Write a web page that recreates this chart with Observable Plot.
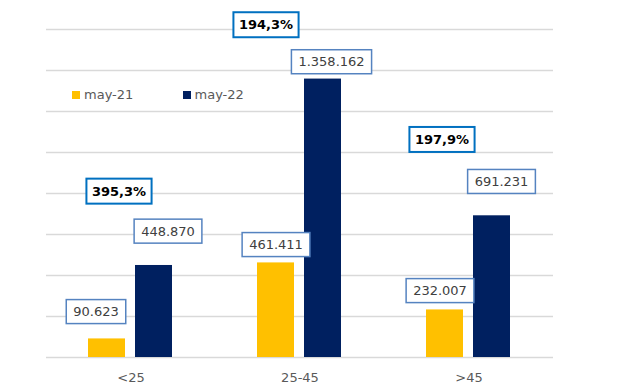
<!DOCTYPE html>
<html>
<head>
<meta charset="utf-8">
<script src="https://cdn.jsdelivr.net/npm/d3@7"></script>
<script src="https://cdn.jsdelivr.net/npm/@observablehq/plot@0.6"></script>
<style>
  html, body { margin: 0; padding: 0; background: #fff; }
  #wrap { position: relative; width: 640px; height: 391px; font-family: "DejaVu Sans", sans-serif; }
  .legend { position: absolute; top: 87px; font-size: 13px; color: #595959; display: flex; align-items: center; }
  .sw { width: 8px; height: 8px; display: inline-block; margin-right: 4px; }
</style>
</head>
<body>
<div id="wrap"></div>
<script>
// ---- data ----
const categories = ["<25", "25-45", ">45"];
const seriesNames = ["may-21", "may-22"];
const may21 = [90623, 461411, 232007];
const may22 = [448870, 1358162, 691231];
const growth = [395.3, 194.3, 197.9];
const yTicks = [0, 200000, 400000, 600000, 800000, 1000000, 1200000, 1400000, 1600000];
const colors = ["#FFC000", "#002060"];

// ---- layout config (label nudges, in px) ----
const valueNudge = {
  "<25|may-21": [-11, -27], "<25|may-22": [14, -34],
  "25-45|may-21": [0, -18], "25-45|may-22": [8.5, -17],
  ">45|may-21": [-5, -19], ">45|may-22": [9.5, -34]
};
const growthNudge = {"<25": [-12, -74], "25-45": [-34, -54], ">45": [-27, -76]};

const locale = d3.formatLocale({decimal: ",", thousands: ".", grouping: [3], currency: ["", "€"]});
const fmtInt = locale.format(",d");
const fmtPct = locale.format(".1f");

const rows = [];
categories.forEach((c, i) => {
  rows.push({cat: c, series: seriesNames[0], value: may21[i]});
  rows.push({cat: c, series: seriesNames[1], value: may22[i]});
});
const growthRows = categories.map((c, i) => ({cat: c, value: may22[i], label: fmtPct(growth[i]) + "%"}));

const valueLabels = rows.map(d => {
  const [dx, dy] = valueNudge[d.cat + "|" + d.series];
  return Plot.text([d], {
    fx: "cat", x: "series", y: "value", text: d => fmtInt(d.value),
    dx, dy, lineAnchor: "middle", textAnchor: "middle",
    fill: "#404040", fontSize: 13
  });
});
const growthLabels = growthRows.map(d => {
  const [dx, dy] = growthNudge[d.cat];
  return Plot.text([d], {
    fx: "cat", y: "value", text: "label", frameAnchor: "middle",
    dx, dy, lineAnchor: "middle", textAnchor: "middle",
    fill: "#000", fontSize: 13, fontWeight: "bold"
  });
});

const chart = Plot.plot({
  width: 640,
  height: 391,
  marginLeft: 46,
  marginRight: 87,
  marginTop: 29,
  marginBottom: 34,
  style: {fontFamily: "DejaVu Sans, sans-serif", fontSize: "13px", color: "#595959", background: "#fff"},
  fx: {domain: categories, paddingInner: 0, paddingOuter: 0, axis: "bottom", tickSize: 0, tickPadding: 15, label: null},
  x: {domain: seriesNames, paddingInner: 0.2083, paddingOuter: 0.8646, axis: null},
  y: {domain: [0, 1600000], axis: null},
  color: {domain: seriesNames, range: colors},
  marks: [
    Plot.ruleY(yTicks, {stroke: "#d9d9d9", strokeWidth: 1.3}),
    Plot.barY(rows, {fx: "cat", x: "series", y: "value", fill: "series"}),
    ...valueLabels,
    ...growthLabels
  ]
});

const wrap = document.getElementById("wrap");
wrap.appendChild(chart);

// boxes behind the labels
const valueSet = new Set(rows.map(d => fmtInt(d.value)));
const growthSet = new Set(growthRows.map(d => d.label));
chart.querySelectorAll("text").forEach(t => {
  const s = t.textContent;
  let pad, stroke, sw;
  if (valueSet.has(s)) { pad = [7, 4.5]; stroke = "#5583C0"; sw = 1.5; }
  else if (growthSet.has(s)) { pad = [5.5, 5]; stroke = "#0070C0"; sw = 2; }
  else return;
  const b = t.getBBox();
  const r = document.createElementNS("http://www.w3.org/2000/svg", "rect");
  r.setAttribute("x", b.x - pad[0]);
  r.setAttribute("y", b.y - pad[1]);
  r.setAttribute("width", b.width + 2 * pad[0]);
  r.setAttribute("height", b.height + 2 * pad[1]);
  r.setAttribute("fill", "#fff");
  r.setAttribute("stroke", stroke);
  r.setAttribute("stroke-width", sw);
  if (t.getAttribute("transform")) r.setAttribute("transform", t.getAttribute("transform"));
  t.parentNode.insertBefore(r, t);
});

// legend inside the plot area
seriesNames.forEach((name, i) => {
  const item = document.createElement("div");
  item.className = "legend";
  item.style.left = (i === 0 ? 72 : 182.5) + "px";
  const sw = document.createElement("span");
  sw.className = "sw";
  sw.style.background = colors[i];
  item.appendChild(sw);
  item.appendChild(document.createTextNode(name));
  wrap.appendChild(item);
});
</script>
</body>
</html>
